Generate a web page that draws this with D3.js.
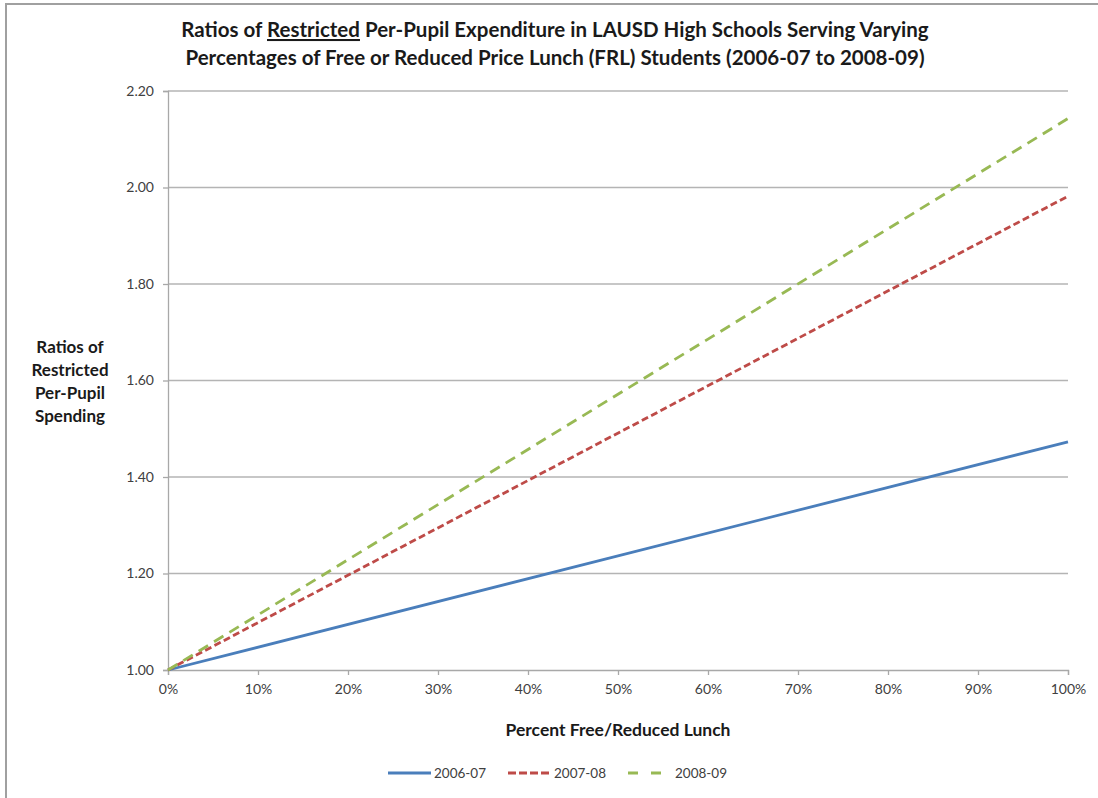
<!DOCTYPE html>
<html>
<head>
<meta charset="utf-8">
<script src="https://cdn.jsdelivr.net/npm/d3@7"></script>
<style>
  html, body { margin: 0; padding: 0; background: #fff; }
  svg { display: block; }
</style>
</head>
<body>
<svg id="chart" width="1098" height="798"></svg>
<script>
// Percent of FRL students (x) and spending ratio at each end of the range
const frlPercent = [0, 100];
const ratio2006_07 = [1.00, 1.473];
const ratio2007_08 = [1.00, 1.982];
const ratio2008_09 = [1.00, 2.143];
const seriesNames = ["2006-07", "2007-08", "2008-09"];
const yTicks = [1.00, 1.20, 1.40, 1.60, 1.80, 2.00, 2.20];
const xTicks = [0, 10, 20, 30, 40, 50, 60, 70, 80, 90, 100];

const series = [
  { name: seriesNames[0], values: ratio2006_07, color: "#4a7ebb", dash: null, legendDash: null },
  { name: seriesNames[1], values: ratio2007_08, color: "#be4b48", dash: "7,3.5", legendDash: "8,3" },
  { name: seriesNames[2], values: ratio2008_09, color: "#98b954", dash: "11,7", legendDash: "10,13" }
];

const font = "Lato, 'Open Sans', sans-serif";
const svg = d3.select("#chart");

// outer chart frame
svg.append("rect")
  .attr("x", 6).attr("y", 4).attr("width", 1100).attr("height", 800)
  .attr("fill", "#fff").attr("stroke", "#a0a0a0").attr("stroke-width", 2);

const x = d3.scaleLinear().domain([0, 100]).range([168, 1068]);
const y = d3.scaleLinear().domain([1.0, 2.2]).range([670, 91]);

// horizontal gridlines
svg.append("g").selectAll("line")
  .data(yTicks.slice(1))
  .join("line")
  .attr("x1", x(0)).attr("x2", x(100))
  .attr("y1", d => y(d)).attr("y2", d => y(d))
  .attr("stroke", "#b4b4b4").attr("stroke-width", 1.3);

// y axis
const yAxis = svg.append("g")
  .attr("transform", `translate(${x(0)},0)`)
  .call(d3.axisLeft(y).tickValues(yTicks).tickFormat(d3.format(".2f")).tickSize(5).tickPadding(9));
yAxis.select(".domain").attr("stroke", "#a8a8a8").attr("stroke-width", 1.3);
yAxis.selectAll(".tick line").attr("stroke", "#a8a8a8").attr("stroke-width", 1.3);
yAxis.selectAll(".tick text")
  .attr("fill", "#404040").style("font-family", font).style("font-size", "14px");

// x axis
const xAxis = svg.append("g")
  .attr("transform", `translate(0,${y(1.0)})`)
  .call(d3.axisBottom(x).tickValues(xTicks).tickFormat(d => d + "%").tickSize(5).tickPadding(9));
xAxis.select(".domain").attr("stroke", "#a8a8a8").attr("stroke-width", 1.3);
xAxis.selectAll(".tick line").attr("stroke", "#a8a8a8").attr("stroke-width", 1.3);
xAxis.selectAll(".tick text")
  .attr("fill", "#404040").style("font-family", font).style("font-size", "14px");

// series lines
const line = d3.line()
  .x((d, i) => x(frlPercent[i]))
  .y(d => y(d));

svg.append("g").selectAll("path")
  .data(series)
  .join("path")
  .attr("d", s => line(s.values))
  .attr("fill", "none")
  .attr("stroke", s => s.color)
  .attr("stroke-width", 2.8)
  .attr("stroke-dasharray", s => s.dash);

// title
const title = svg.append("text")
  .attr("text-anchor", "middle")
  .style("font-family", font).style("font-size", "20.5px").style("font-weight", "bold")
  .attr("fill", "#1a1a1a");
title.append("tspan").attr("x", 555).attr("y", 37).text("Ratios of ");
title.append("tspan").style("text-decoration", "underline").text("Restricted");
title.append("tspan").text(" Per-Pupil Expenditure in LAUSD High Schools Serving Varying");
title.append("tspan").attr("x", 555).attr("y", 65)
  .text("Percentages of Free or Reduced Price Lunch (FRL) Students (2006-07 to 2008-09)");

// y axis title
const yTitle = svg.append("text")
  .attr("text-anchor", "middle")
  .style("font-family", font).style("font-size", "17px").style("font-weight", "bold")
  .attr("fill", "#1a1a1a");
["Ratios of", "Restricted", "Per-Pupil", "Spending"].forEach((t, i) => {
  yTitle.append("tspan").attr("x", 70).attr("y", 353 + i * 23).text(t);
});

// x axis title
svg.append("text")
  .attr("x", 618).attr("y", 736)
  .attr("text-anchor", "middle")
  .style("font-family", font).style("font-size", "17.5px").style("font-weight", "bold")
  .attr("fill", "#1a1a1a")
  .text("Percent Free/Reduced Lunch");

// legend
const legendX = [388, 508, 628];
const legend = svg.append("g").selectAll("g")
  .data(series)
  .join("g")
  .attr("transform", (d, i) => `translate(${legendX[i]},773)`);
legend.append("line")
  .attr("x1", 0).attr("x2", 43).attr("y1", 0).attr("y2", 0)
  .attr("stroke", d => d.color).attr("stroke-width", 2.8)
  .attr("stroke-dasharray", d => d.legendDash);
legend.append("text")
  .attr("x", (d, i) => i === 2 ? 47 : 46).attr("y", 5)
  .style("font-family", font).style("font-size", "13.5px")
  .attr("fill", "#404040")
  .text(d => d.name);
</script>
</body>
</html>
